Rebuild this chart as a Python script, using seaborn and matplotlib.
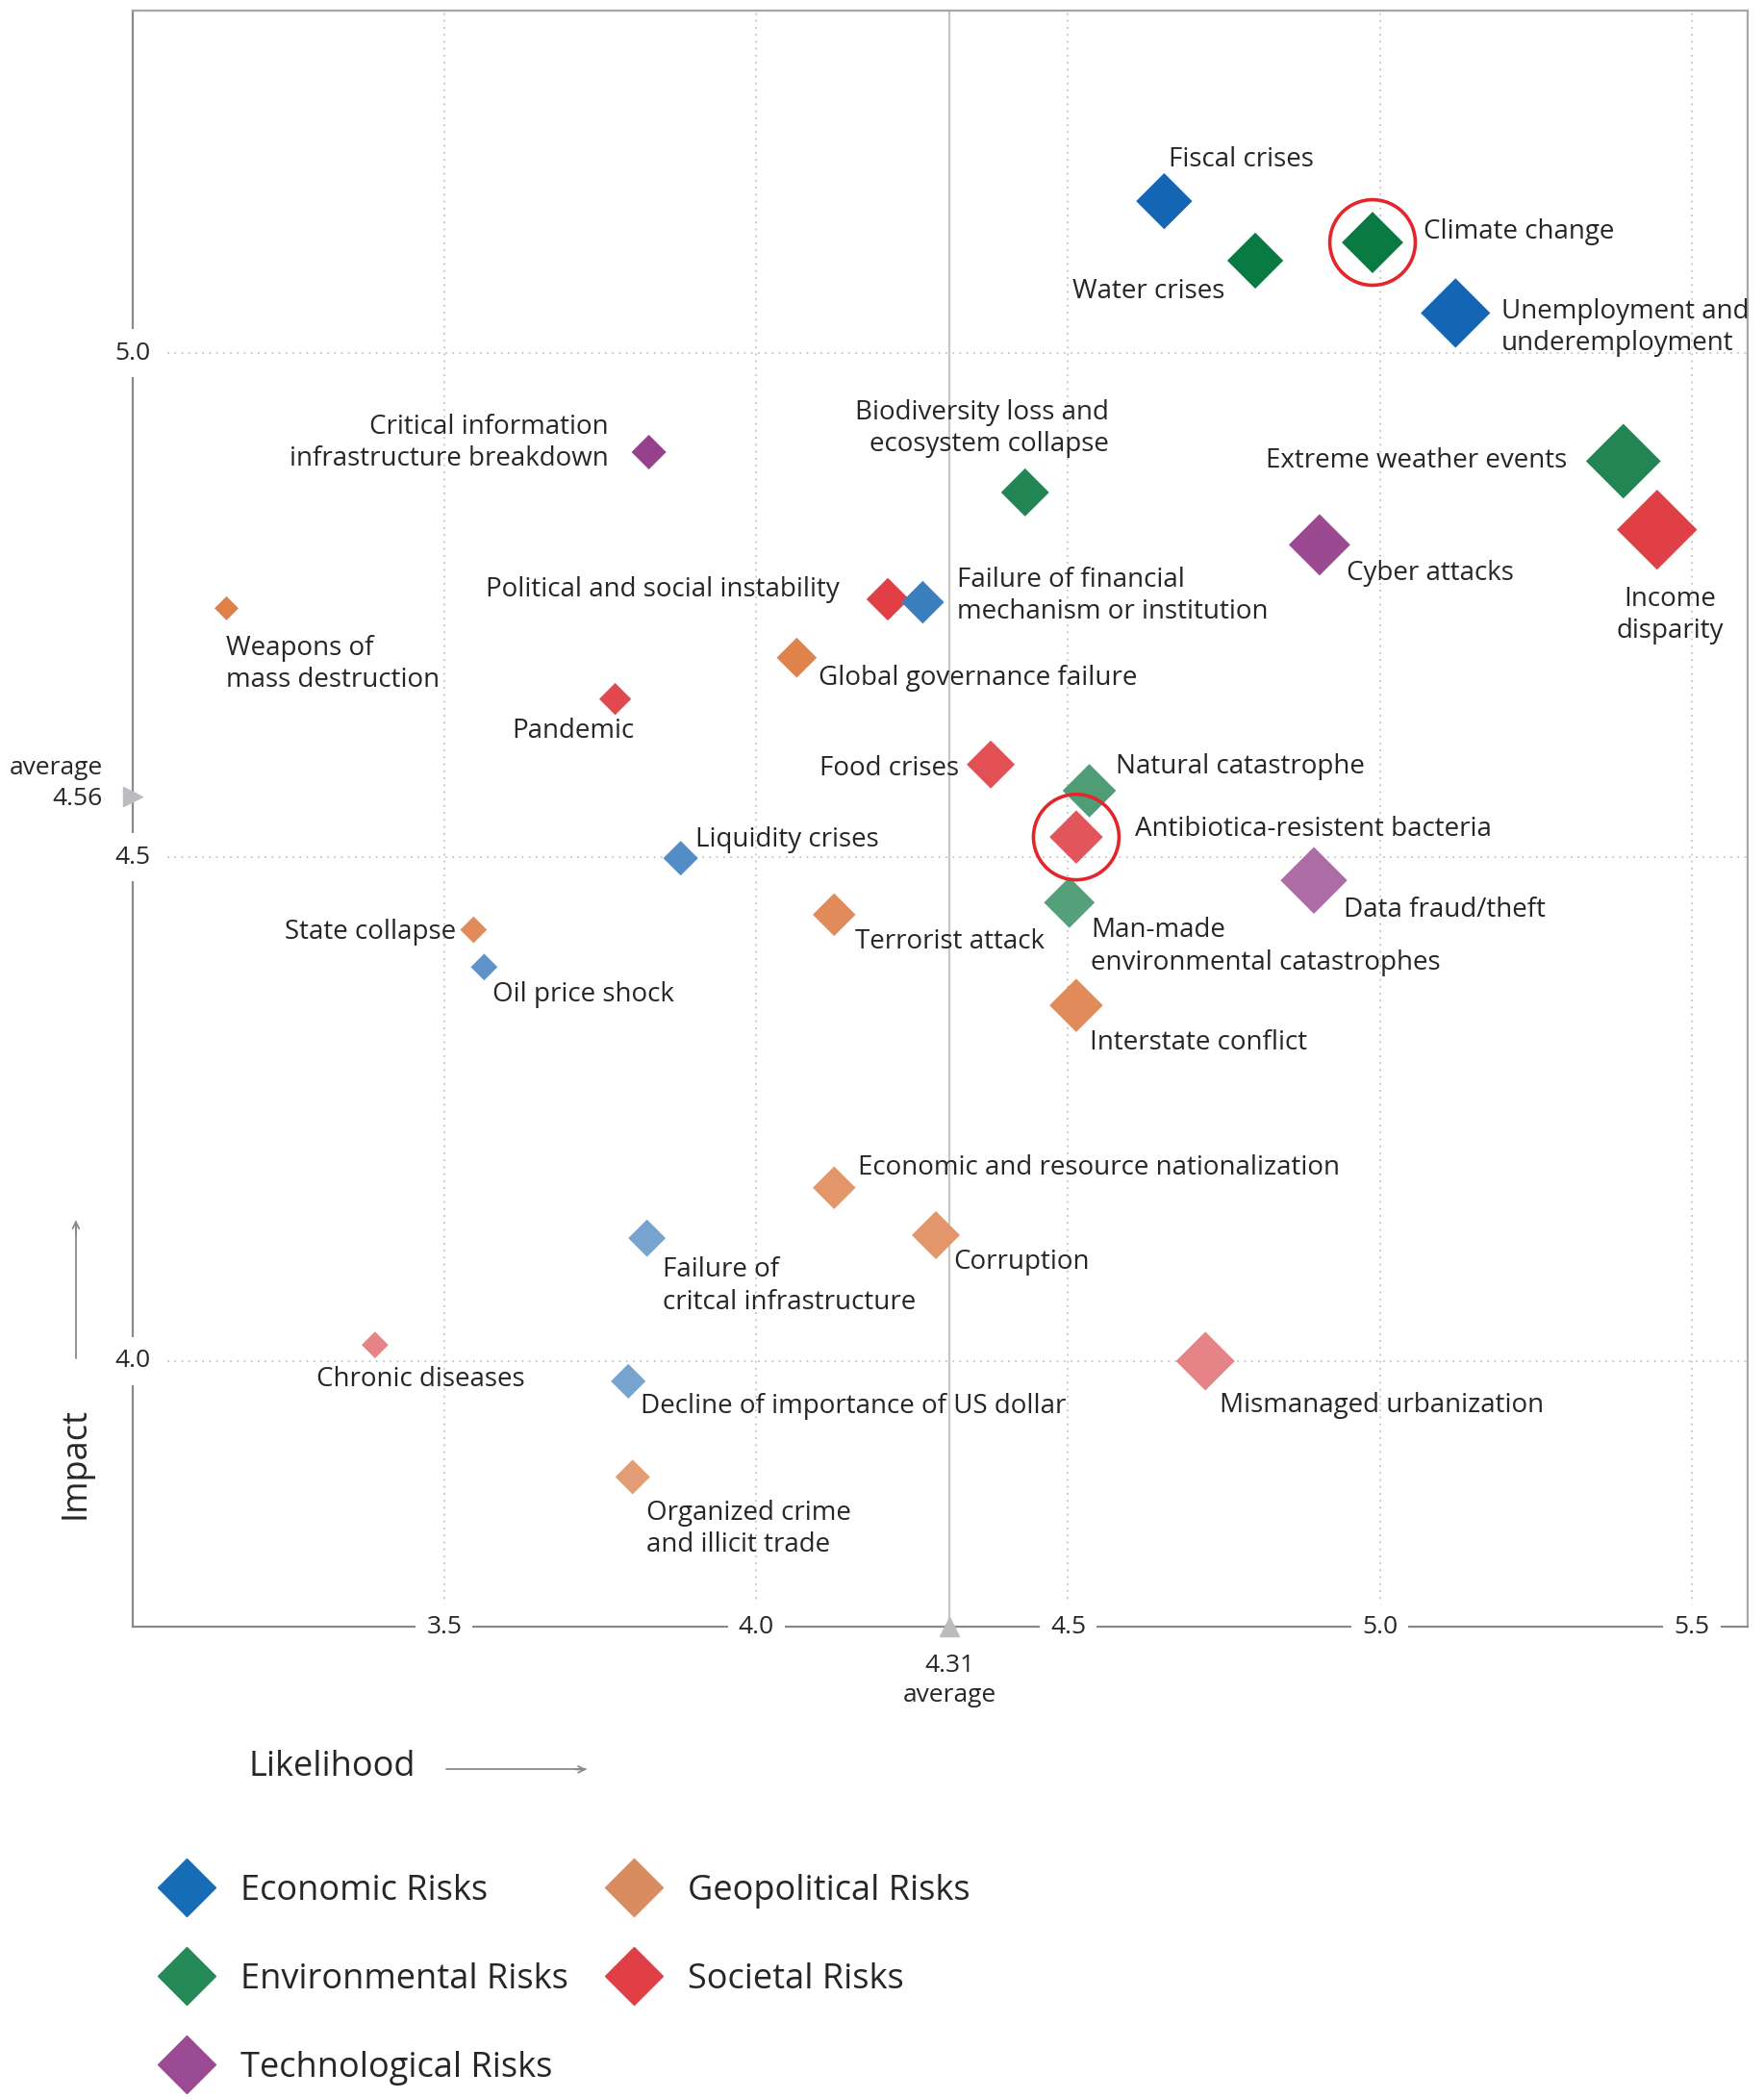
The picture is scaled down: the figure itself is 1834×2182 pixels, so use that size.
import pandas as pd
import numpy as np
import matplotlib
matplotlib.use("Agg")
import matplotlib.pyplot as plt
import seaborn as sns
from matplotlib.lines import Line2D

# ==========================================
# 1. DATA
# ==========================================
risks = [
    "Fiscal crises", "Water crises", "Climate change",
    "Unemployment and\nunderemployment", "Extreme weather events",
    "Income\ndisparity", "Cyber attacks", "Biodiversity loss and\necosystem collapse",
    "Critical information\ninfrastructure breakdown", "Political and social instability",
    "Failure of financial\nmechanism or institution", "Weapons of\nmass destruction",
    "Global governance failure", "Pandemic", "Food crises", "Natural catastrophe",
    "Antibiotica-resistent bacteria", "Liquidity crises", "Data fraud/theft",
    "Man-made\nenvironmental catastrophes", "Terrorist attack", "State collapse",
    "Oil price shock", "Interstate conflict", "Economic and resource nationalization",
    "Corruption", "Failure of\ncritcal infrastructure", "Chronic diseases",
    "Mismanaged urbanization", "Decline of importance of US dollar",
    "Organized crime\nand illicit trade",
]
category = [
    "Economic", "Environmental", "Environmental", "Economic", "Environmental",
    "Societal", "Technological", "Environmental", "Technological", "Societal",
    "Economic", "Geopolitical", "Geopolitical", "Societal", "Societal",
    "Environmental", "Societal", "Economic", "Technological", "Environmental",
    "Geopolitical", "Geopolitical", "Economic", "Geopolitical", "Geopolitical",
    "Geopolitical", "Economic", "Societal", "Societal", "Economic", "Geopolitical",
]
likelihood = [
    4.654, 4.800, 4.988, 5.121, 5.390, 5.444, 4.903, 4.431, 3.828, 4.211,
    4.267, 3.151, 4.065, 3.774, 4.376, 4.534, 4.513, 3.879, 4.894, 4.502,
    4.125, 3.547, 3.564, 4.513, 4.125, 4.288, 3.825, 3.389, 4.720, 3.795, 3.802,
]
impact = [
    5.151, 5.092, 5.110, 5.040, 4.893, 4.825, 4.810, 4.862, 4.902, 4.756,
    4.753, 4.747, 4.698, 4.657, 4.592, 4.566, 4.520, 4.499, 4.477, 4.455,
    4.443, 4.428, 4.391, 4.353, 4.172, 4.125, 4.122, 4.016, 4.000, 3.980, 3.885,
]
# third dimension (marker size) and fourth (colour fading)
weight = [
    42, 42, 46, 52, 56, 60, 46, 36, 26, 32,
    32, 18, 30, 24, 36, 40, 40, 26, 50, 38,
    32, 20, 20, 40, 32, 36, 28, 20, 44, 26, 26,
]
fade = [
    0.0, 0.0, 0.0, 0.0, 0.1, 0.03, 0.05, 0.1, 0.0, 0.03,
    0.18, 0.0, 0.02, 0.08, 0.12, 0.3, 0.15, 0.28, 0.25, 0.32,
    0.1, 0.1, 0.33, 0.1, 0.2, 0.2, 0.45, 0.4, 0.4, 0.45, 0.25,
]
highlighted = ["Climate change", "Antibiotica-resistent bacteria"]
avg_likelihood = 4.31
avg_impact = 4.56

x_ticks = [3.5, 4.0, 4.5, 5.0, 5.5]
y_ticks = [4.0, 4.5, 5.0]

# label offsets (points) and alignment for every risk
label_pos = [
    (3, 31, "left"), (-23, -23, "right"), (38, 8, "left"), (34, -11, "left"),
    (-42, 0, "right"), (10, -64, "center"), (20, -21, "left"), (63, 48, "right"),
    (-30, 7, "right"), (-36, 7, "right"), (26, 5, "left"), (0, -42, "left"),
    (16, -15, "left"), (14, -24, "right"), (-24, -3, "right"), (20, 18, "left"),
    (44, 6, "left"), (11, 14, "left"), (22, -22, "left"), (16, -33, "left"),
    (16, -20, "left"), (-13, -2, "right"), (6, -21, "left"), (10, -28, "left"),
    (18, 15, "left"), (13, -20, "left"), (12, -36, "left"), (34, -26, "center"),
    (11, -33, "left"), (9, -19, "left"), (10, -39, "left"),
]

df = pd.DataFrame({"risk": risks, "category": category, "likelihood": likelihood,
                   "impact": impact, "weight": weight, "fade": fade})

# ==========================================
# 2. COLOURS
# ==========================================
base = {
    "Economic": (20, 102, 180), "Environmental": (10, 122, 67),
    "Geopolitical": (223, 128, 73), "Societal": (224, 58, 64),
    "Technological": (151, 64, 139),
}
legend_col = {
    "Economic": "#176cb6", "Environmental": "#268a58", "Geopolitical": "#d98c5f",
    "Societal": "#e04045", "Technological": "#9b4a94",
}


def shade(rgb, f):
    c = np.array(rgb) / 255.0
    return tuple(c * (1 - f) + np.array([0.94, 0.94, 0.94]) * f)


palette = {r: shade(base[c], f) for r, c, f in zip(risks, category, fade)}
df["area"] = df["weight"] ** 2 / 2.0

# ==========================================
# 3. PLOT
# ==========================================
sns.set_theme(style="white")
plt.rcParams["font.family"] = ["Open Sans", "DejaVu Sans"]

FS = 20

fig = plt.figure(figsize=(18.34, 21.82), dpi=100)
ax = fig.add_axes([0.075, 0.2248, 0.916, 0.7701])

sns.scatterplot(data=df, x="likelihood", y="impact", hue="risk", palette=palette,
                size="area", sizes=(df["area"].min(), df["area"].max()),
                marker="D", linewidth=0, legend=False, ax=ax, zorder=3)

ax.set_xlim(3.0, 5.59)
ax.set_ylim(3.736, 5.34)

# grid
for xt in x_ticks:
    ax.axvline(xt, color="#c4c4c4", lw=1.3, ls=(0, (1, 3)), zorder=0)
for yt in y_ticks:
    ax.axhline(yt, color="#c4c4c4", lw=1.3, ls=(0, (1, 3)), zorder=0)

# average likelihood line
ax.axvline(avg_likelihood, color="#c6c6c6", lw=1.6, zorder=1)

ax.set_xticks([])
ax.set_yticks([])
ax.set_xlabel("")
ax.set_ylabel("")
for s in ["left", "bottom"]:
    ax.spines[s].set_color("#8a8a8a")
    ax.spines[s].set_linewidth(1.6)
for s in ["top", "right"]:
    ax.spines[s].set_color("#a6a6a6")
    ax.spines[s].set_linewidth(1.6)

# tick labels sitting on the axis lines
bb = dict(facecolor="white", edgecolor="none", pad=8)
for xt in x_ticks:
    ax.text(xt, 3.736, f"{xt:.1f}", ha="center", va="center", fontsize=FS - 1,
            bbox=bb, zorder=5, clip_on=False)
for yt in y_ticks:
    ax.text(3.0, yt, f"{yt:.1f}", ha="center", va="center", fontsize=FS - 1,
            bbox=dict(facecolor="white", edgecolor="none", pad=9), zorder=5,
            clip_on=False)

# average markers
ax.plot([avg_likelihood], [3.736], marker="^", ms=15, color="#bbbcbf", clip_on=False, zorder=6)
ax.plot([3.0], [avg_impact], marker=">", ms=15, color="#bbbcbf", clip_on=False, zorder=6)
ax.annotate(f"{avg_likelihood:.2f}\naverage", (avg_likelihood, 3.736), xytext=(0, -40),
            textcoords="offset points", ha="center", va="center", fontsize=FS - 1,
            linespacing=1.3, annotation_clip=False)
ax.annotate(f"average\n{avg_impact:.2f}", (3.0, avg_impact), xytext=(-22, 10),
            textcoords="offset points", ha="right", va="center", fontsize=FS - 1,
            multialignment="right", linespacing=1.4, annotation_clip=False)

# risk labels
for i, row in df.iterrows():
    dx, dy, ha = label_pos[i]
    ax.annotate(row["risk"], (row["likelihood"], row["impact"]), xytext=(dx, dy),
                textcoords="offset points", ha=ha, va="center", fontsize=FS,
                multialignment=ha, linespacing=1.25, zorder=4)

# red circles around highlighted risks
hl = df[df["risk"].isin(highlighted)]
ax.scatter(hl["likelihood"], hl["impact"], s=64 ** 2, facecolors="none",
           edgecolors="#e3262b", linewidths=2.6, zorder=4)

# axis titles with arrows
fig.text(0.043, 0.303, "Impact", rotation=90, ha="center", va="center", fontsize=26)
fig.add_artist(Line2D([0.043, 0.043], [0.353, 0.418], color="#8a8a8a", lw=1.3))
fig.text(0.141, 0.158, "Likelihood", ha="left", va="center", fontsize=26)
fig.add_artist(Line2D([0.253, 0.332], [0.157, 0.157], color="#8a8a8a", lw=1.3))
ax.annotate("", xy=(0.043, 0.420), xytext=(0.043, 0.410), xycoords="figure fraction",
            arrowprops=dict(arrowstyle="->", color="#8a8a8a", lw=1.3))
ax.annotate("", xy=(0.334, 0.157), xytext=(0.325, 0.157), xycoords="figure fraction",
            arrowprops=dict(arrowstyle="->", color="#8a8a8a", lw=1.3))

# legend
order = ["Economic", "Environmental", "Technological", "Geopolitical", "Societal"]
handles = [Line2D([], [], marker="D", ls="none", ms=31, color=legend_col[c],
                  label=f"{c} Risks") for c in order]
fig.legend(handles=handles, loc="upper left", bbox_to_anchor=(0.078, 0.114), ncol=2,
           frameon=False, fontsize=26, handletextpad=0.55, columnspacing=0.9,
           labelspacing=1.55, borderaxespad=0)

fig.savefig("out.png", dpi=100)
